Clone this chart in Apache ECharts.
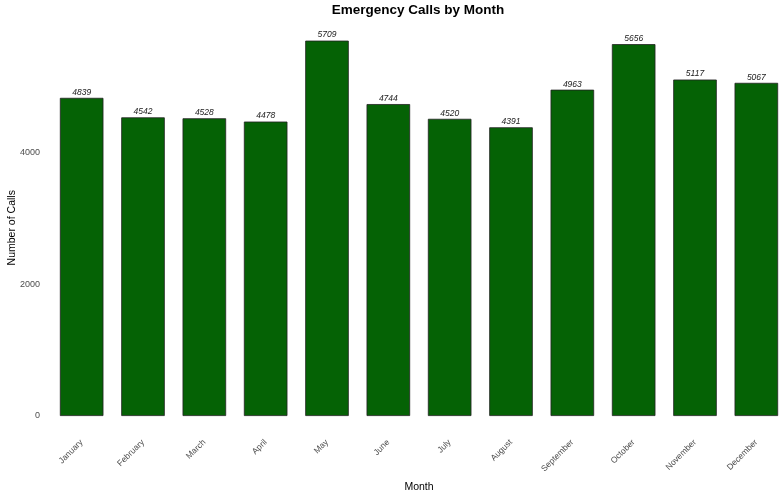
<!DOCTYPE html>
<html>
<head>
<meta charset="utf-8">
<title>Emergency Calls by Month</title>
<script src="https://cdn.jsdelivr.net/npm/echarts@6/dist/echarts.min.js"></script>
<style>
  html, body { margin: 0; padding: 0; background: #ffffff; }
  #chart { width: 782px; height: 493px; }
</style>
</head>
<body>
<div id="chart"></div>
<script>
// data
var months = ['January', 'February', 'March', 'April', 'May', 'June',
              'July', 'August', 'September', 'October', 'November', 'December'];
var calls = [4839, 4542, 4528, 4478, 5709, 4744, 4520, 4391, 4963, 5656, 5117, 5067];
var yTicks = [0, 2000, 4000];

var font = 'Liberation Sans, Arial, sans-serif';

var mychart = echarts.init(document.getElementById('chart'));
mychart.setOption({
    animation: false,
    title: {
        text: 'Emergency Calls by Month',
        left: 413,
        textAlign: 'center',
        top: -2,
        textStyle: {
            fontFamily: font,
            fontSize: 13.5,
            fontWeight: 'bold',
            color: '#000000'
        }
    },
    grid: {
        left: 51,
        right: -5,
        top: 21.5,
        bottom: 77,
        outerBoundsMode: 'none',
        containLabel: false
    },
    xAxis: {
        type: 'category',
        data: months,
        name: 'Month',
        nameLocation: 'middle',
        nameGap: 66,
        nameMoveOverlap: false,
        nameTextStyle: { fontFamily: font, fontSize: 10.5, color: '#000000' },
        axisLine: { show: false },
        axisTick: { show: false },
        axisLabel: {
            rotate: 45,
            margin: 25,
            fontFamily: font,
            fontSize: 8.5,
            color: '#4d4d4d',
            interval: 0
        }
    },
    yAxis: {
        type: 'value',
        min: 0,
        max: 6000,
        interval: 2000,
        name: 'Number of Calls',
        nameLocation: 'middle',
        nameGap: 33,
        nameMoveOverlap: false,
        nameTextStyle: {
            fontFamily: font,
            fontSize: 10.5,
            color: '#000000',
            padding: [0, 18, 0, 0]
        },
        axisLine: { show: false },
        axisTick: { show: false },
        splitLine: { show: false },
        axisLabel: {
            margin: 11,
            fontFamily: font,
            fontSize: 9,
            color: '#4d4d4d',
            showMaxLabel: false,
            formatter: function (v) {
                return yTicks.indexOf(v) >= 0 ? String(v) : '';
            }
        }
    },
    series: [
        {
            type: 'bar',
            data: calls,
            barWidth: '71%',
            itemStyle: {
                color: '#056205',
                borderColor: '#222222',
                borderWidth: 0.8
            },
            label: {
                show: true,
                position: 'top',
                distance: 1,
                fontFamily: font,
                fontStyle: 'italic',
                fontSize: 8.5,
                color: '#1a1a1a'
            }
        }
    ]
});
</script>
</body>
</html>
